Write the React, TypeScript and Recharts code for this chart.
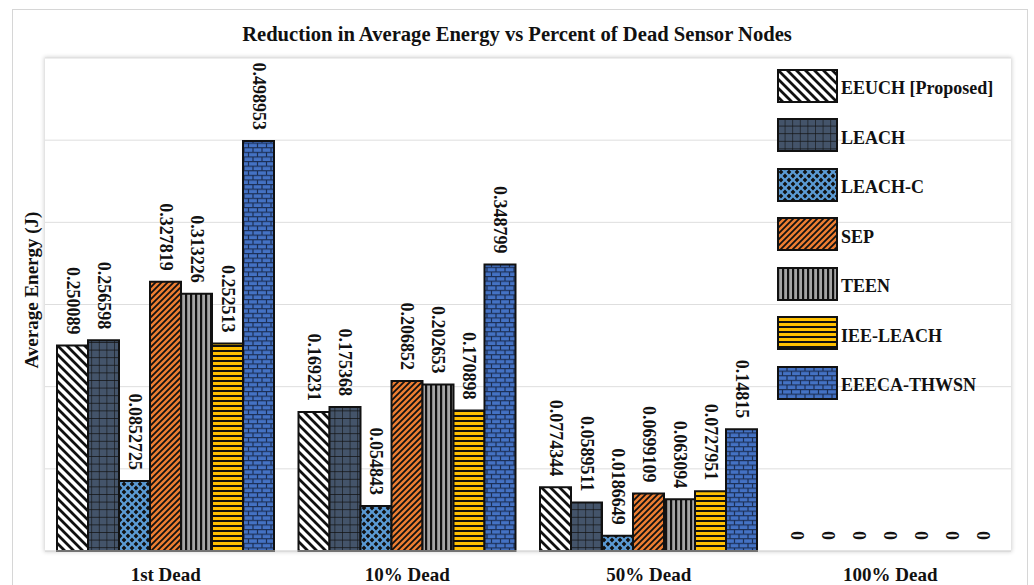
import React from 'react';
import { BarChart, Bar, XAxis, YAxis, CartesianGrid, Legend, LabelList, Rectangle } from 'recharts';

const categories = ['1st Dead', '10% Dead', '50% Dead', '100% Dead'];
const eeuch = [0.250089, 0.169231, 0.0774344, 0];
const leach = [0.256598, 0.175368, 0.0589511, 0];
const leachC = [0.0852725, 0.054843, 0.0186649, 0];
const sep = [0.327819, 0.206852, 0.0699109, 0];
const teen = [0.313226, 0.202653, 0.063094, 0];
const ieeLeach = [0.252513, 0.170898, 0.0727951, 0];
const eeecaThwsn = [0.498953, 0.348799, 0.14815, 0];
const yTicks = [0, 0.1, 0.2, 0.3, 0.4, 0.5, 0.6];

const series = [
  { key: 'eeuch', name: 'EEUCH [Proposed]', values: eeuch, pattern: 'pat-eeuch' },
  { key: 'leach', name: 'LEACH', values: leach, pattern: 'pat-leach' },
  { key: 'leachC', name: 'LEACH-C', values: leachC, pattern: 'pat-leachc' },
  { key: 'sep', name: 'SEP', values: sep, pattern: 'pat-sep' },
  { key: 'teen', name: 'TEEN', values: teen, pattern: 'pat-teen' },
  { key: 'ieeLeach', name: 'IEE-LEACH', values: ieeLeach, pattern: 'pat-ieeleach' },
  { key: 'eeecaThwsn', name: 'EEECA-THWSN', values: eeecaThwsn, pattern: 'pat-eeeca' },
];

const data = categories.map((name, i) => {
  const row: Record<string, string | number> = { name };
  series.forEach((s) => {
    row[s.key] = s.values[i];
  });
  return row;
});

const SERIF = '"Liberation Serif", "Times New Roman", serif';

const Patterns = () => (
  <defs>
    <pattern id="pat-eeuch" width={9} height={9} patternUnits="userSpaceOnUse">
      <rect width={9} height={9} fill="#fff" />
      <path d="M-2,-2 L11,11 M-2,7 L2,11 M7,-2 L11,2" stroke="#111" strokeWidth={2.8} />
    </pattern>
    <pattern id="pat-leach" width={7.6} height={7.6} patternUnits="userSpaceOnUse">
      <rect width={7.6} height={7.6} fill="#44546a" />
      <path d="M0,0 H7.6 M0,0 V7.6" stroke="#111" strokeWidth={1.2} />
    </pattern>
    <pattern id="pat-leachc" width={8} height={8} patternUnits="userSpaceOnUse">
      <rect width={8} height={8} fill="#5b9bd5" />
      <path
        d="M4,1.6 L6.4,4 L4,6.4 L1.6,4 Z M0,-2.4 L2.4,0 L0,2.4 L-2.4,0 Z M8,-2.4 L10.4,0 L8,2.4 L5.6,0 Z M0,5.6 L2.4,8 L0,10.4 L-2.4,8 Z M8,5.6 L10.4,8 L8,10.4 L5.6,8 Z"
        fill="#111"
      />
    </pattern>
    <pattern id="pat-sep" width={6} height={6} patternUnits="userSpaceOnUse">
      <rect width={6} height={6} fill="#ed7d31" />
      <path d="M-1,7 L7,-1 M-4,4 L4,-4 M2,10 L10,2" stroke="#111" strokeWidth={1.8} />
    </pattern>
    <pattern id="pat-teen" width={5} height={5} patternUnits="userSpaceOnUse">
      <rect width={5} height={5} fill="#a5a5a5" />
      <rect x={0} width={2.2} height={5} fill="#111" />
    </pattern>
    <pattern id="pat-ieeleach" width={5} height={5} patternUnits="userSpaceOnUse">
      <rect width={5} height={5} fill="#ffc000" />
      <rect y={0} width={5} height={2} fill="#111" />
    </pattern>
    <pattern id="pat-eeeca" width={9} height={9.2} patternUnits="userSpaceOnUse">
      <rect width={9} height={9.2} fill="#4472c4" />
      <path d="M0,0.5 H9 M0,5.1 H9 M1,0 V4.6 M5.5,4.6 V9.2" stroke="#1c2f55" strokeWidth={1.2} />
    </pattern>
  </defs>
);

// value labels rotated to read top-to-bottom, sitting just above each bar
const RotatedLabel = (props: any) => {
  const vb = props.viewBox || props;
  const x = Number(vb.x);
  const y = Number(vb.y);
  const width = Number(vb.width);
  const cx = x + width / 2;
  const ty = y - 11;
  return (
    <text
      x={cx}
      y={ty}
      transform={`rotate(90 ${cx} ${ty})`}
      textAnchor="end"
      dominantBaseline="central"
      fontFamily={SERIF}
      fontWeight="bold"
      fontSize={18}
      fill="#111"
    >
      {props.value}
    </text>
  );
};

// zero-valued bars get a hairline height so their labels are still placed; don't draw them
const BarShape = (props: any) => (props.height < 1 ? <g /> : <Rectangle {...props} />);

const CategoryTick = ({ x, y, payload }: any) => (
  <text x={x} y={y + 22} textAnchor="middle" fontFamily={SERIF} fontWeight="bold" fontSize={19} fill="#111">
    {payload.value}
  </text>
);

const renderLegend = () => (
  <div style={{ display: 'flex', flexDirection: 'column' }}>
    {series.map((s) => (
      <div key={s.key} style={{ display: 'flex', alignItems: 'center', height: 49.5 }}>
        <svg width={61} height={34} style={{ display: 'block' }}>
          <rect x={1} y={1} width={59} height={32} fill={`url(#${s.pattern})`} stroke="#111" strokeWidth={2} />
        </svg>
        <span
          style={{
            marginLeft: 3,
            marginTop: 6,
            fontFamily: SERIF,
            fontWeight: 'bold',
            fontSize: 18,
            color: '#111',
            whiteSpace: 'nowrap',
          }}
        >
          {s.name}
        </span>
      </div>
    ))}
  </div>
);

export default function App() {
  return (
    <div style={{ position: 'absolute', left: 0, top: 0, width: 1034, height: 585, background: '#fff', overflow: 'hidden' }}>
      <div
        style={{
          position: 'absolute',
          left: 12,
          top: 9,
          width: 1016,
          height: 620,
          border: '1px solid #d6d6d6',
          boxSizing: 'border-box',
        }}
      />
      <div
        style={{
          position: 'absolute',
          left: 45,
          top: 58,
          width: 966,
          height: 493,
          boxShadow: '0 0 4px 1px rgba(0,0,0,0.18)',
          background: '#fff',
        }}
      />
      <div style={{ position: 'absolute', left: 0, top: 0 }}>
        <BarChart
          width={1034}
          height={585}
          data={data}
          margin={{ top: 58, right: 23, bottom: 0, left: 45 }}
          barCategoryGap={12}
          barGap={0}
        >
          <Patterns />
          <text
            x={517}
            y={41}
            textAnchor="middle"
            fontFamily={SERIF}
            fontWeight="bold"
            fontSize={20.6}
            fill="#111"
          >
            Reduction in Average Energy vs Percent of Dead Sensor Nodes
          </text>
          <CartesianGrid vertical={false} stroke="#dedede" strokeWidth={1} />
          <XAxis
            dataKey="name"
            height={34}
            axisLine={{ stroke: '#d6d6d6' }}
            tickLine={false}
            tick={<CategoryTick />}
          />
          <YAxis hide domain={[0, 0.6]} ticks={yTicks} />
          <text
            x={31}
            y={290}
            transform="rotate(-90 31 290)"
            textAnchor="middle"
            dominantBaseline="central"
            fontFamily={SERIF}
            fontWeight="bold"
            fontSize={19}
            fill="#111"
          >
            Average Energy (J)
          </text>
          <Legend
            layout="vertical"
            align="center"
            verticalAlign="middle"
            wrapperStyle={{ left: 777, top: 61, width: 250 }}
            content={renderLegend}
          />
          {series.map((s) => (
            <Bar
              key={s.key}
              dataKey={s.key}
              name={s.name}
              fill={`url(#${s.pattern})`}
              stroke="#111"
              strokeWidth={2}
              minPointSize={0.01}
              shape={<BarShape />}
              isAnimationActive={false}
            >
              <LabelList dataKey={s.key} content={<RotatedLabel />} />
            </Bar>
          ))}
        </BarChart>
      </div>
    </div>
  );
}
